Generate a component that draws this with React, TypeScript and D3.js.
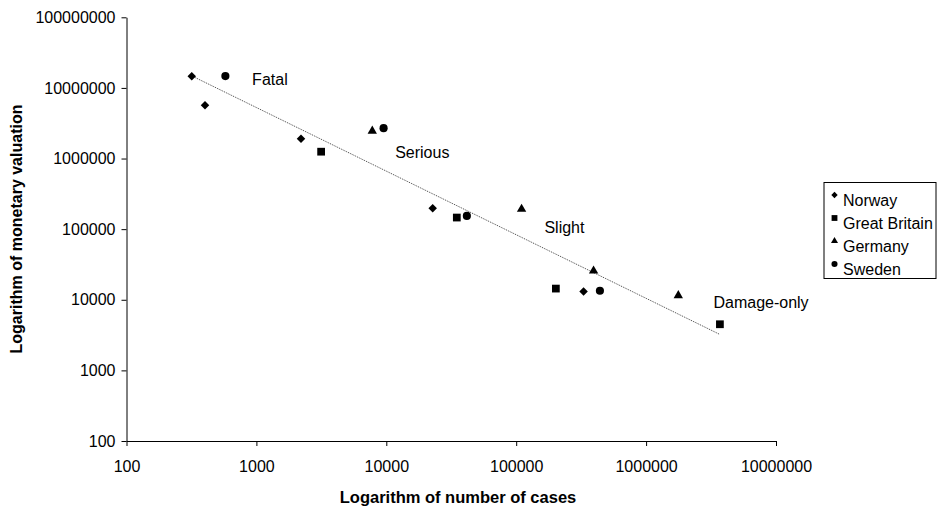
import { useEffect, useRef } from 'react'
import * as d3 from 'd3'

// number of cases / monetary valuation, one entry per point
const norwayCases = [318, 402, 2205, 22750, 330000]
const norwayValues = [14600000, 5690000, 1900000, 198000, 13100]
const britainCases = [3150, 34900, 202000, 3700000]
const britainValues = [1250000, 146000, 14400, 4500]
const germanyCases = [7800, 110000, 394000, 1770000]
const germanyValues = [2460000, 192000, 25700, 11500]
const swedenCases = [577, 9530, 41700, 441000]
const swedenValues = [14700000, 2690000, 154000, 13400]

const seriesNames = ['Norway', 'Great Britain', 'Germany', 'Sweden']
const decadeTicks = [100, 1000, 10000, 100000, 1000000, 10000000, 100000000]

const severityLabels = ['Fatal', 'Serious', 'Slight', 'Damage-only']
const severityAtCases = [927, 11700, 165000, 3300000]
const severityAtValue = [11000000, 1020000, 88000, 7630]

const FONT = 'Arial, "Liberation Sans", sans-serif'

export default function App() {
  const svgRef = useRef<SVGSVGElement>(null)

  useEffect(() => {
    if (!svgRef.current) return
    const width = 938
    const height = 507
    const svg = d3.select(svgRef.current)
    svg.selectAll('*').remove()
    svg.attr('width', width).attr('height', height)

    const x = d3.scaleLog().domain([100, 10000000]).range([126.5, 776])
    const y = d3.scaleLog().domain([100, 100000000]).range([441, 17.3])

    const series = [
      { name: seriesNames[0], cases: norwayCases, values: norwayValues, shape: 'diamond' },
      { name: seriesNames[1], cases: britainCases, values: britainValues, shape: 'square' },
      { name: seriesNames[2], cases: germanyCases, values: germanyValues, shape: 'triangle' },
      { name: seriesNames[3], cases: swedenCases, values: swedenValues, shape: 'circle' },
    ]

    const symbolPath = (shape: string, k: number) => {
      if (shape === 'diamond') return d3.symbol(d3.symbolSquare, 36 * k * k)()
      if (shape === 'square') return d3.symbol(d3.symbolSquare, 60 * k * k)()
      if (shape === 'triangle') return d3.symbol(d3.symbolTriangle, 38 * k * k)()
      return d3.symbol(d3.symbolCircle, 52 * k * k)()
    }

    // axes
    const xAxis = svg.append('g')
      .attr('transform', 'translate(0,441)')
      .call(d3.axisBottom(x).tickValues(decadeTicks.slice(0, 6)).tickFormat(d3.format('d'))
        .tickSize(5).tickSizeOuter(0).tickPadding(15))
    xAxis.select('.domain').attr('stroke', '#000')
    xAxis.selectAll('line').attr('stroke', '#000')
    xAxis.selectAll('text').attr('font-family', FONT).attr('font-size', '16px').attr('fill', '#000')

    const yAxis = svg.append('g')
      .attr('transform', 'translate(126.5,0)')
      .call(d3.axisLeft(y).tickValues(decadeTicks).tickFormat(d3.format('d'))
        .tickSize(5).tickSizeOuter(0).tickPadding(6))
    yAxis.select('.domain').attr('stroke', '#000')
    yAxis.selectAll('line').attr('stroke', '#000')
    yAxis.selectAll('text').attr('font-family', FONT).attr('font-size', '16px').attr('fill', '#000')

    svg.append('text')
      .attr('x', 458).attr('y', 503)
      .attr('text-anchor', 'middle')
      .attr('font-family', FONT).attr('font-size', '16.5px').attr('font-weight', 'bold')
      .text('Logarithm of number of cases')

    svg.append('text')
      .attr('transform', 'translate(22,229) rotate(-90)')
      .attr('text-anchor', 'middle')
      .attr('font-family', FONT).attr('font-size', '16px').attr('font-weight', 'bold')
      .text('Logarithm of monetary valuation')

    // power trendline: least squares on log10 of all points
    const lx = series.flatMap(s => s.cases.map(v => Math.log10(v)))
    const ly = series.flatMap(s => s.values.map(v => Math.log10(v)))
    const mx = d3.mean(lx)!
    const my = d3.mean(ly)!
    const slope = d3.sum(lx, (v, i) => (v - mx) * (ly[i] - my)) / d3.sum(lx, v => (v - mx) ** 2)
    const icpt = my - slope * mx
    const [x0, x1] = d3.extent(lx) as [number, number]
    svg.append('line')
      .attr('x1', x(10 ** x0)).attr('y1', y(10 ** (icpt + slope * x0)))
      .attr('x2', x(10 ** x1)).attr('y2', y(10 ** (icpt + slope * x1)))
      .attr('stroke', '#444').attr('stroke-width', 1).attr('stroke-dasharray', '1 1')

    // points
    series.forEach(s => {
      s.cases.forEach((c, i) => {
        svg.append('path')
          .attr('d', symbolPath(s.shape, 1))
          .attr('transform', `translate(${x(c)},${y(s.values[i])})${s.shape === 'diamond' ? ' rotate(45)' : ''}`)
          .attr('fill', '#000')
      })
    })

    // severity labels
    severityLabels.forEach((t, i) => {
      svg.append('text')
        .attr('x', x(severityAtCases[i])).attr('y', y(severityAtValue[i]))
        .attr('font-family', FONT).attr('font-size', '16px')
        .text(t)
    })

    // legend
    const legend = svg.append('g').attr('transform', 'translate(824,182.5)')
    legend.append('rect')
      .attr('width', 112).attr('height', 96)
      .attr('fill', '#fff').attr('stroke', '#000').attr('stroke-width', 1)
    series.forEach((s, i) => {
      const cy = 17.5 + i * 23
      legend.append('path')
        .attr('d', symbolPath(s.shape, 0.75))
        .attr('transform', `translate(10.5,${cy - 5})${s.shape === 'diamond' ? ' rotate(45)' : ''}`)
        .attr('fill', '#000')
      legend.append('text')
        .attr('x', 19).attr('y', cy + 6)
        .attr('font-family', FONT).attr('font-size', '16px')
        .text(s.name)
    })
  }, [])

  return (
    <div style={{ position: 'absolute', left: 0, top: 0 }}>
      <svg ref={svgRef} style={{ display: 'block' }} />
    </div>
  )
}
